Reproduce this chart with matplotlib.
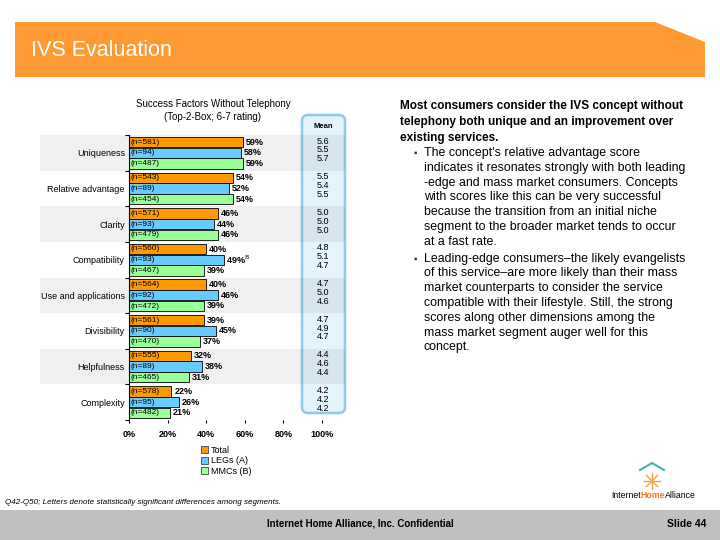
import matplotlib
matplotlib.use("Agg")
import matplotlib.pyplot as plt
from matplotlib.patches import Polygon, FancyBboxPatch, Rectangle, Patch
from matplotlib.lines import Line2D
from matplotlib.transforms import IdentityTransform, blended_transform_factory
import numpy as np

plt.rcParams['font.family'] = ['Liberation Sans', 'DejaVu Sans']

# datos del grafico
factors = ["Uniqueness", "Relative advantage", "Clarity", "Compatibility",
           "Use and applications", "Divisibility", "Helpfulness", "Complexity"]
series = ["Total", "LEGs (A)", "MMCs (B)"]
total_pct = [59, 54, 46, 40, 40, 39, 32, 22]
legs_pct = [58, 52, 44, 49, 46, 45, 38, 26]
mmcs_pct = [59, 54, 46, 39, 39, 37, 31, 21]
total_n = [581, 543, 571, 560, 564, 561, 555, 578]
legs_n = [94, 89, 93, 93, 92, 90, 89, 95]
mmcs_n = [487, 454, 479, 467, 472, 470, 465, 482]
total_mean = [5.6, 5.5, 5.0, 4.8, 4.7, 4.7, 4.4, 4.2]
legs_mean = [5.5, 5.4, 5.0, 5.1, 5.0, 4.9, 4.6, 4.2]
mmcs_mean = [5.7, 5.5, 5.0, 4.7, 4.6, 4.7, 4.4, 4.2]
legs_sig = ["", "", "", "B", "", "", "", ""]
xticks = [0, 20, 40, 60, 80, 100]

colors = ['#FF9900', '#66CCFF', '#99FF99']
W, H = 720, 540


def px(x, y):
    # pixel desde arriba -> coordenadas de display
    return (x, H - y)


fig = plt.figure(figsize=(7.2, 5.4), dpi=100)

# Encabezado naranja
header = Polygon([px(15, 22), px(655, 22), px(705, 42), px(705, 77), px(15, 77)],
                 closed=True, transform=IdentityTransform(), fc='#FF9933', ec='none')
fig.add_artist(header)
fig.text(31 / W, 1 - 50 / H, "IVS Evaluation", color='white', fontsize=15.5, va='center')

# Pie gris
fig.add_artist(Rectangle((0, 0), W, 30, transform=IdentityTransform(), fc='#C0C0C0', ec='none'))
fig.text(360 / W, 1 - 524 / H, "Internet Home Alliance, Inc. Confidential", ha='center', va='center',
         fontsize=7, weight='bold')
fig.text(706 / W, 1 - 524 / H, "Slide 44", ha='right', va='center', fontsize=7.5, weight='bold')
fig.text(5 / W, 1 - 503 / H, "Q42-Q50; Letters denote statistically significant differences among segments.",
         fontsize=5.8, style='italic', va='center')

# Caja de medias
mean_box = FancyBboxPatch(px(302, 413), 43, 298, boxstyle="round,pad=0,rounding_size=6",
                          transform=IdentityTransform(), fc='#E4F4FD', ec='#8CCBEA', lw=1.8, zorder=0.5)
fig.add_artist(mean_box)
fig.text(323 / W, 1 - 127 / H, "Mean", ha='center', va='center', fontsize=5.5, weight='bold')

ax = fig.add_axes([129 / W, 1 - 420 / H, 193 / W, 285 / H])
ax.set_zorder(1)
ax.patch.set_visible(False)
ax.set_xlim(0, 100)
ax.set_ylim(len(factors), 0)

centers = np.arange(len(factors)) + 0.5
offsets = [-0.3, 0.0, 0.3]
pcts = [total_pct, legs_pct, mmcs_pct]
ns = [total_n, legs_n, mmcs_n]
means = [total_mean, legs_mean, mmcs_mean]

# bandas grises alternadas
for i in range(0, len(factors), 2):
    ax.axhspan(i, i + 1, xmin=(40 - 129) / 193, xmax=(345 - 129) / 193, fc='black', alpha=0.06,
               lw=0, clip_on=False, zorder=0.2)

tr_mean = blended_transform_factory(fig.transFigure, ax.transData)
for k in range(3):
    ys = centers + offsets[k]
    ax.barh(ys, pcts[k], height=0.29, color=colors[k], edgecolor='black', linewidth=0.6, zorder=2)
    for i in range(len(factors)):
        ax.text(1, ys[i], "(n={})".format(ns[k][i]), va='center', fontsize=6, zorder=3)
        label = "{}%".format(pcts[k][i])
        if k == 1 and legs_sig[i]:
            label += r"$^{\mathrm{" + legs_sig[i] + "}}$"
        ax.text(pcts[k][i] + 1.5, ys[i], label, va='center', fontsize=6.5, weight='bold', zorder=3)
        ax.text(323 / W, centers[i] - 0.08 + 0.25 * (k - 1), "{:.1f}".format(means[k][i]),
                transform=tr_mean, ha='center', va='center', fontsize=6.5, zorder=3)

for s in ['top', 'right', 'bottom']:
    ax.spines[s].set_visible(False)
ax.spines['left'].set_linewidth(0.8)
ax.set_yticks(np.arange(len(factors) + 1))
ax.set_yticklabels([])
ax.set_yticks(centers, minor=True)
ax.set_yticklabels(factors, minor=True, fontsize=6.5)
ax.tick_params(axis='y', which='major', length=3, width=0.8)
ax.tick_params(axis='y', which='minor', length=0, pad=3)
ax.set_xticks(xticks)
ax.set_xticklabels(["{}%".format(t) for t in xticks], fontsize=6.5, weight='bold')
ax.tick_params(axis='x', length=2, width=0.8, pad=5)

handles = [Patch(facecolor=c, edgecolor='#444444', linewidth=0.6) for c in colors]
fig.legend(handles, series, loc='upper left', bbox_to_anchor=(201 / W, 1 - 446 / H), frameon=False,
           fontsize=6.5, handlelength=0.8, handleheight=0.8, handletextpad=0.3, labelspacing=0.15,
           borderpad=0, borderaxespad=0)

fig.text(213 / W, 1 - 104 / H, "Success Factors Without Telephony", ha='center', va='center', fontsize=7)
fig.text(213 / W, 1 - 117 / H, "(Top-2-Box; 6-7 rating)", ha='center', va='center', fontsize=7)

# Texto de la derecha
heading = ["Most consumers consider the IVS concept without",
           "telephony both unique and an improvement over",
           "existing services."]
for j, line in enumerate(heading):
    fig.text(400 / W, 1 - (106 + 16 * j) / H, line, fontsize=8.5, weight='bold', va='center')

bullet1 = ["The concept's relative advantage score",
           "indicates it resonates strongly with both leading",
           "-edge and mass market consumers. Concepts",
           "with scores like this can be very successful",
           "because the transition from an initial niche",
           "segment to the broader market tends to occur",
           "at a fast rate."]
bullet2 = ["Leading-edge consumers\u2013the likely evangelists",
           "of this service\u2013are more likely than their mass",
           "market counterparts to consider the service",
           "compatible with their lifestyle. Still, the strong",
           "scores along other dimensions among the",
           "mass market segment auger well for this",
           "concept."]
y0 = 153
for block in [bullet1, bullet2]:
    fig.text(414 / W, 1 - y0 / H, "\u25aa", fontsize=7, va='center', color='#333333')
    for line in block:
        fig.text(424 / W, 1 - y0 / H, line, fontsize=8.9, va='center')
        y0 += 14.8
    y0 += 2

# Logo
roof = Line2D([640, 652, 664], [H - 470, H - 463, H - 470], transform=IdentityTransform(),
              color='#45B3B5', lw=1.5)
fig.add_artist(roof)
for ang in np.deg2rad([0, 45, 90, 135]):
    dx, dy = 8 * np.cos(ang), 8 * np.sin(ang)
    fig.add_artist(Line2D([652 - dx, 652 + dx], [H - 481 - dy, H - 481 + dy],
                          transform=IdentityTransform(), color='#F5A040', lw=1))
renderer = fig.canvas.get_renderer()
xpos = 611
for word, col in [("Internet", 'black'), ("Home", '#F07A20'), ("Alliance", 'black')]:
    t = fig.text(xpos / W, 1 - 496 / H, word, fontsize=6.3, color=col, va='center',
                 weight='bold' if word == "Home" else 'normal')
    xpos += t.get_window_extent(renderer).width

fig.savefig("out.png", dpi=100)
